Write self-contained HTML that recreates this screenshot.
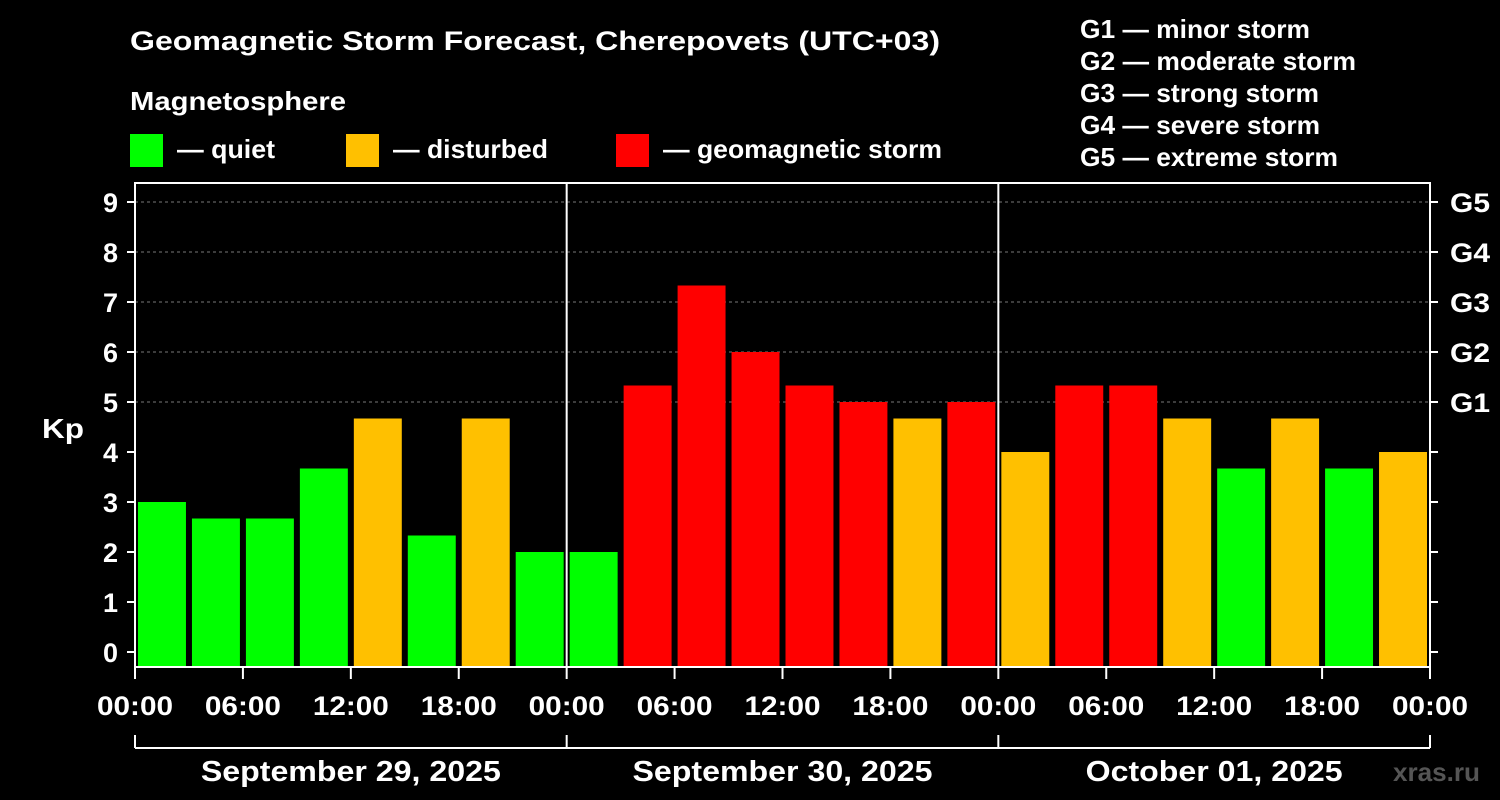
<!DOCTYPE html>
<html><head><meta charset="utf-8"><style>
html,body{margin:0;padding:0;background:#000;}
svg{display:block;font-family:"Liberation Sans",Arial,sans-serif;font-weight:bold;}
</style></head><body>
<svg id="chart" width="1500" height="800" viewBox="0 0 1500 800">
<rect width="1500" height="800" fill="#000"/>
<text x="130" y="50" fill="#fff" font-size="27" textLength="810" lengthAdjust="spacingAndGlyphs">Geomagnetic Storm Forecast, Cherepovets (UTC+03)</text>
<text x="130" y="110" fill="#fff" font-size="26" textLength="216" lengthAdjust="spacingAndGlyphs">Magnetosphere</text>
<g><rect x="130" y="134" width="33" height="33" fill="#00ff00"/><text x="177" y="158" fill="#fff" font-size="26" textLength="98" lengthAdjust="spacingAndGlyphs">— quiet</text></g>
<g><rect x="346" y="134" width="33" height="33" fill="#ffc000"/><text x="393" y="158" fill="#fff" font-size="26" textLength="155" lengthAdjust="spacingAndGlyphs">— disturbed</text></g>
<g><rect x="616" y="134" width="33" height="33" fill="#ff0000"/><text x="663" y="158" fill="#fff" font-size="26" textLength="279" lengthAdjust="spacingAndGlyphs">— geomagnetic storm</text></g>
<g fill="#fff" font-size="26">
<text x="1080" y="38" textLength="230" lengthAdjust="spacingAndGlyphs">G1 — minor storm</text>
<text x="1080" y="70" textLength="276" lengthAdjust="spacingAndGlyphs">G2 — moderate storm</text>
<text x="1080" y="102" textLength="239" lengthAdjust="spacingAndGlyphs">G3 — strong storm</text>
<text x="1080" y="134" textLength="240" lengthAdjust="spacingAndGlyphs">G4 — severe storm</text>
<text x="1080" y="166" textLength="258" lengthAdjust="spacingAndGlyphs">G5 — extreme storm</text>
</g>
<text x="42" y="438" fill="#fff" font-size="28" textLength="42" lengthAdjust="spacingAndGlyphs">Kp</text>
<text x="1393" y="781" fill="#555" font-size="26" textLength="87" lengthAdjust="spacingAndGlyphs">xras.ru</text>
<g id="plot"></g>
</svg>
<script>
const kpValues = [3,2.67,2.67,3.67,4.67,2.33,4.67,2, 2,5.33,7.33,6,5.33,5,4.67,5, 4,5.33,5.33,4.67,3.67,4.67,3.67,4];
const yTicks = [0,1,2,3,4,5,6,7,8,9];
const gLabels = ["G1","G2","G3","G4","G5"];
const gLevels = [5,6,7,8,9];
const xTickLabels = ["00:00","06:00","12:00","18:00","00:00","06:00","12:00","18:00","00:00","06:00","12:00","18:00","00:00"];
const dayLabels = ["September 29, 2025","September 30, 2025","October 01, 2025"];
const dayWidths = [300,300,257];

const L=135,R=1430,T=183,B=667;
const y=v=>652-v*50;
const slot=(R-L)/kpValues.length;
const x=i=>L+i*slot;
const NS="http://www.w3.org/2000/svg";
const g=document.getElementById('plot');
function mk(tag,attrs,txt){const e=document.createElementNS(NS,tag);for(const k in attrs)e.setAttribute(k,attrs[k]);if(txt!==undefined)e.textContent=txt;g.appendChild(e);return e;}
gLevels.forEach(v=>{const e=mk('line',{x1:L,x2:R,y1:y(v),y2:y(v),stroke:'#777','stroke-dasharray':'3,3'});

});
kpValues.forEach((v,i)=>{const c=v>=5?'#ff0000':(v>=4?'#ffc000':'#00ff00');
const e=mk('rect',{x:x(i)+3,y:y(v),width:slot-6,height:B-y(v),fill:c});

});
const fr=mk('rect',{x:L,y:T,width:R-L,height:B-T,fill:'none',stroke:'#fff','stroke-width':2});


[1,2].forEach(d=>{const e=mk('line',{x1:x(d*8),x2:x(d*8),y1:T,y2:B,stroke:'#fff','stroke-width':2});

});
yTicks.forEach(v=>{mk('line',{x1:L-8,x2:L,y1:y(v),y2:y(v),stroke:'#fff','stroke-width':2});
mk('line',{x1:R,x2:R+8,y1:y(v),y2:y(v),stroke:'#fff','stroke-width':2});
const t=mk('text',{x:L-17,y:y(v)+10,fill:'#fff','font-size':27,'text-anchor':'end'},v);

});
gLabels.forEach((s,i)=>{const t=mk('text',{x:R+20,y:y(gLevels[i])+10,fill:'#fff','font-size':27,textLength:40,lengthAdjust:'spacingAndGlyphs'},s);

});
xTickLabels.forEach((s,i)=>{const xx=x(i*2);
mk('line',{x1:xx,x2:xx,y1:B,y2:B+12,stroke:'#fff','stroke-width':2});
const t=mk('text',{x:xx-38,y:715,fill:'#fff','font-size':27,textLength:76,lengthAdjust:'spacingAndGlyphs'},s);

});
mk('line',{x1:L,x2:R,y1:748,y2:748,stroke:'#fff','stroke-width':2});
[0,1,2,3].forEach(d=>mk('line',{x1:x(d*8),x2:x(d*8),y1:735,y2:748,stroke:'#fff','stroke-width':2}));
dayLabels.forEach((s,d)=>{const cx=(x(d*8)+x(d*8+8))/2;const w=dayWidths[d];
const t=mk('text',{x:cx-w/2,y:781,fill:'#fff','font-size':29,textLength:w,lengthAdjust:'spacingAndGlyphs'},s);

});
</script>
</body></html>
